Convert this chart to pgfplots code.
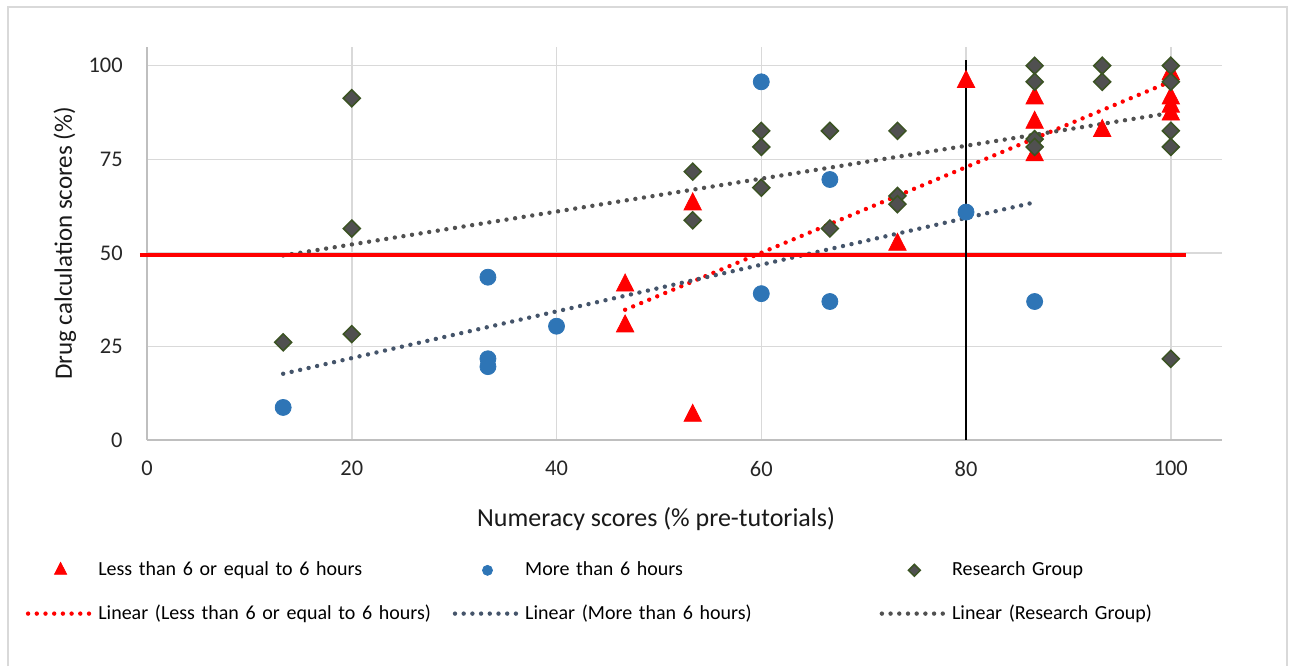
\documentclass[border=0pt]{standalone}
\usepackage{fontspec}
\setmainfont{Carlito}
\usepackage{pgfplots}
\pgfplotsset{compat=1.18}

\definecolor{lowred}{HTML}{FF0000}
\definecolor{highblue}{HTML}{2E75B6}
\definecolor{grpfill}{HTML}{505050}
\definecolor{grpedge}{HTML}{3B5323}
\definecolor{bluetrend}{HTML}{44546A}
\definecolor{greytrend}{HTML}{505050}
\definecolor{gridgrey}{HTML}{D9D9D9}
\definecolor{axisgrey}{HTML}{BFBFBF}
\definecolor{framegrey}{HTML}{D9D9D9}

% numeracy (x) vs drug calculation score (y)
\pgfplotstableread{
x     y
46.7  41.3
46.7  30.4
53.3  63.0
53.3  6.5
73.3  52.2
80    95.7
86.7  91.3
86.7  84.8
86.7  76.1
93.3  82.6
100   97.8
100   91.3
100   89.1
100   87.0
}\lowhours

\pgfplotstableread{
x     y
13.3  8.7
33.3  43.5
33.3  21.7
33.3  19.6
40    30.4
60    95.7
60    39.1
66.7  69.6
66.7  37.0
80    60.9
86.7  37.0
}\highhours

\pgfplotstableread{
x     y
13.3  26.1
20    91.3
20    56.5
20    28.3
53.3  71.7
53.3  58.7
60    82.6
60    78.3
60    67.4
66.7  82.6
66.7  56.5
73.3  82.6
73.3  65.2
73.3  63.0
86.7  100
86.7  95.7
86.7  80.4
86.7  78.3
93.3  100
93.3  95.7
100   100
100   95.7
100   82.6
100   78.3
100   21.7
}\research

\pgfplotsset{
  markimg/.style={legend image code/.code={
      \path (0pt,0pt) (32.5pt,0pt);
      \draw[##1,#1] plot coordinates {(16.25pt,0pt)};}},
  lineimg/.style={legend image code/.code={
      \draw[##1] (0pt,0pt) -- (32.5pt,0pt);}},
  trend/.style={line width=2.2pt, line cap=round, dash pattern=on 0pt off 4.35pt, lineimg},
}

\begin{document}
\begin{tikzpicture}
\path[use as bounding box] (0,0) rectangle (646pt,333pt);
\draw[framegrey, line width=1pt] (4pt,0pt) -- (4pt,329.5pt) -- (643.5pt,329.5pt) -- (643.5pt,0pt);
\begin{axis}[
  at={(73.5pt,113pt)}, anchor=south west,
  scale only axis, width=537.5pt, height=196.5pt,
  xmin=0, xmax=105, ymin=0, ymax=105,
  xtick={0,20,...,100}, ytick={0,25,...,100},
  clip=false,
  axis x line*=bottom, axis y line*=left,
  axis line style={draw=axisgrey, line width=0.75pt, -},
  major tick length=0pt,
  grid=major, grid style={draw=gridgrey, line width=0.75pt},
  /pgf/number format/assume math mode=true,
  ticklabel style={font=\fontsize{11.2}{13}\selectfont, text=black!85},
  yticklabel style={inner sep=0pt, xshift=-12pt},
  xticklabel style={inner sep=0pt, yshift=-10.5pt},
  xlabel={Numeracy scores (\% pre-tutorials)},
  ylabel={Drug calculation scores (\%)},
  label style={text=black!90},
  xlabel style={font=\fontsize{13}{15}\selectfont, at={(axis description cs:0.4735,-0.201)}, anchor=center},
  ylabel style={font=\fontsize{12.5}{15}\selectfont, at={(axis description cs:-0.0763,0.5)}, anchor=center},
  legend columns=3,
  legend cell align=left,
  legend style={
    at={(axis description cs:-0.1186,-0.299)}, anchor=north west,
    draw=none, fill=none,
    font=\fontsize{10}{12}\selectfont,
    nodes={inner sep=0pt},
    row sep=13pt,
    /tikz/every odd column/.append style={column sep=1.5pt},
    /tikz/every even column/.append style={text width=177.25pt},
  },
]
\addplot[only marks, mark=triangle*, mark size=5pt, color=lowred,
  mark options={yscale=1.13}, markimg={mark size=3.5pt}]
  table[x=x,y=y] {\lowhours};
\addlegendentry{Less than 6 or equal to 6 hours}
\addplot[only marks, mark=*, mark size=4pt, color=highblue,
  markimg={mark size=2.5pt}]
  table[x=x,y=y] {\highhours};
\addlegendentry{More than 6 hours}
\addplot[only marks, mark=square*, mark size=3pt,
  mark options={rotate=45, fill=grpfill, draw=grpedge, line width=0.75pt},
  markimg={mark size=2.1pt}]
  table[x=x,y=y] {\research};
\addlegendentry{Research Group}
\addplot[trend, color=lowred] coordinates {(46.7,34.8) (100,95.8)};
\addlegendentry{Linear (Less than 6 or equal to 6 hours)}
\addplot[trend, color=bluetrend] coordinates {(13.3,17.7) (86.7,63.5)};
\addlegendentry{Linear (More than 6 hours)}
\addplot[trend, color=greytrend] coordinates {(13.3,49.3) (100,87.4)};
\addlegendentry{Linear (Research Group)}
% pass mark and reference score
\addplot[lowred, line width=2pt, forget plot] coordinates {(-0.7,49.3) (101.5,49.3)};
\addplot[black, line width=0.8pt, forget plot] coordinates {(80,0) (80,101.5)};
\end{axis}
\end{tikzpicture}
\end{document}
